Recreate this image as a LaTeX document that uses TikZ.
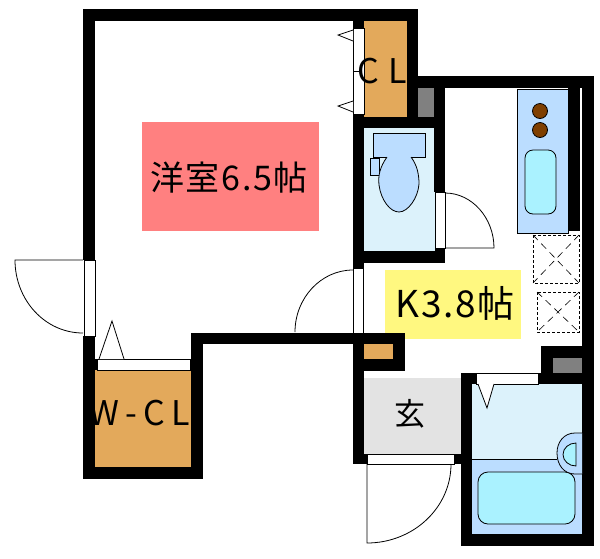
\documentclass[tikz,border=0pt]{standalone}
\usepackage{fontspec}
\setmainfont{Noto Sans CJK JP}
\definecolor{closetorange}{HTML}{E3A95B}
\definecolor{bathpale}{HTML}{DCF2FB}
\definecolor{fixtureblue}{HTML}{BBDDFF}
\definecolor{basincyan}{HTML}{AAF2FF}
\definecolor{burnerbrown}{HTML}{7F3F00}
\tikzset{
    wall/.style={fill=black},
    duct/.style={fill=black!50},
    doorstrip/.style={draw=black, fill=white, line width=0.8pt},
    thinline/.style={draw=black, line width=0.8pt},
    fixture/.style={draw=black, fill=fixtureblue, line width=0.8pt},
    basin/.style={draw=black, fill=basincyan, line width=0.8pt},
    appliance/.style={draw=black, line width=0.7pt, dash pattern=on 3pt off 2pt},
    applianceX/.style={draw=black, line width=0.6pt, dash pattern=on 7pt off 5pt},
    roomlabel/.style={inner sep=0pt, text=black, anchor=base},
}
\begin{document}
\begin{tikzpicture}[x=1pt, y=-1pt]
    \useasboundingbox (0,0) rectangle (600,558);

    % Room colours
    \fill[red!50!white] (142,122) rectangle (319,231);
    \fill[yellow!50!white] (385,270) rectangle (521,339);
    \fill[closetorange] (364,21) rectangle (407,117);
    \fill[closetorange] (95,370) rectangle (191,467);
    \fill[closetorange] (364,344) rectangle (393,359);
    \fill[bathpale] (364,128) rectangle (435,251);
    \fill[bathpale] (472,384) rectangle (582,459);
    \fill[fixtureblue] (472,459) rectangle (582,534);
    \fill[black!11] (364,378) rectangle (461,454);
    \fill[duct] (418,88) rectangle (434,117);
    \fill[duct] (553,358) rectangle (582,373);

    % Outer walls
    \fill[wall] (83,9) rectangle (418,21);
    \fill[wall] (83,9) rectangle (95,260);
    \fill[wall] (83,336) rectangle (95,479);
    \fill[wall] (83,467) rectangle (203,479);
    \fill[wall] (191,333) rectangle (203,479);
    \fill[wall] (191,333) rectangle (405,344);
    \fill[wall] (407,9) rectangle (418,128);
    \fill[wall] (407,76) rectangle (594,88);
    \fill[wall] (582,76) rectangle (594,546);
    \fill[wall] (461,534) rectangle (594,546);
    \fill[wall] (461,373) rectangle (472,546);

    % Inner walls
    \fill[wall] (353,21) rectangle (364,28);
    \fill[wall] (353,117) rectangle (445,128);
    \fill[wall] (353,114) rectangle (364,268);
    \fill[wall] (434,88) rectangle (445,192);
    \fill[wall] (353,251) rectangle (445,263);
    \fill[wall] (568,88) rectangle (580,231);
    \fill[wall] (393,333) rectangle (405,371);
    \fill[wall] (353,359) rectangle (405,371);
    \fill[wall] (353,333) rectangle (364,464);
    \fill[wall] (353,454) rectangle (367,464);
    \fill[wall] (454,454) rectangle (461,464);
    \fill[wall] (461,373) rectangle (476,384);
    \fill[wall] (541,346) rectangle (582,358);
    \fill[wall] (541,346) rectangle (553,373);
    \fill[wall] (538,373) rectangle (582,384);
    \fill[wall] (95,359) rectangle (97,370);

    % Door openings
    \draw[doorstrip] (84,260) rectangle (95,336);
    \draw[doorstrip] (97,359) rectangle (190,370);
    \draw[doorstrip] (353,28) rectangle (364,114);
    \draw[doorstrip] (435,192) rectangle (445,248);
    \draw[doorstrip] (353,268) rectangle (363,333);
    \draw[doorstrip] (367,454) rectangle (454,464);
    \draw[doorstrip] (476,373) rectangle (538,384);
    \fill[wall] (435,248) rectangle (445,251);

    % Door leaves
    \draw[thinline] (83,260) -- (15,260) .. controls (15,300) and (45,333) .. (83,333);
    \draw[thinline] (445,248) -- (494,248) .. controls (494,218) and (472,193) .. (445,193);
    \draw[thinline] (353,270) .. controls (321,270) and (295,298) .. (295,332);
    \draw[thinline] (367,464) -- (367,543) .. controls (413,543) and (451,508) .. (451,464);

    % Folding doors
    \draw[thinline, fill=white] (353,30) -- (338,35) -- (353,41);
    \draw[thinline, fill=white] (353,101) -- (338,106) -- (353,112);
    \draw[thinline] (353,71) -- (362,71);
    \draw[thinline, fill=white] (99,359) -- (112,321) -- (124,359);
    \draw[thinline, fill=white] (478,384) -- (487,408) -- (494,384);

    % Toilet
    \draw[fixture] (373,133) rectangle (425,157);
    \draw[fixture] (370,158) rectangle (379,175);
    \draw[fixture] (387,157) .. controls (380,167) and (378,175) .. (379,185)
        .. controls (381,200) and (390,212) .. (399,212)
        .. controls (408,212) and (418,198) .. (419,184)
        .. controls (419,174) and (417,165) .. (411,157);

    % Kitchen counter
    \draw[fixture] (517,89) rectangle (568,233);
    \draw[thinline, fill=burnerbrown] (540,111) circle[radius=7.5];
    \draw[thinline, fill=burnerbrown] (540,130) circle[radius=7.5];
    \draw[basin, rounded corners=8pt] (525,150) rectangle (556,214);

    % Appliance spaces
    \draw[appliance] (533,235) rectangle (579,283);
    \draw[applianceX] (533,235) -- (579,283);
    \draw[applianceX] (579,235) -- (533,283);
    \draw[appliance] (537,292) rectangle (579,332);
    \draw[applianceX] (537,292) -- (579,332);
    \draw[applianceX] (579,292) -- (537,332);

    % Bath
    \draw[thinline] (472,459) -- (557,459);
    \draw[basin, rounded corners=10pt] (478,472) rectangle (575,524);
    \draw[fixture] (582,433) -- (575,433) .. controls (564,433) and (557,442) .. (557,453)
        .. controls (557,465) and (564,474) .. (575,474) -- (582,474);
    \draw[thinline, fill=basincyan] (576,443) -- (576,466) .. controls (569,466) and (563,461) .. (563,454.5)
        .. controls (563,448) and (569,443) .. (576,443) -- cycle;

    % Labels
    \node[roomlabel, font=\fontsize{34}{34}\selectfont\addfontfeatures{LetterSpace=5}] (westernroom) at (229,190) {洋室6.5帖};
    \node[roomlabel, font=\fontsize{37}{37}\selectfont\addfontfeatures{LetterSpace=4.5}] (kitchen) at (455,317) {K3.8帖};
    \node[roomlabel, font=\fontsize{31}{31}\selectfont] (entrance) at (410,425) {玄};
    \node[roomlabel, font=\fontsize{34}{34}\selectfont\addfontfeatures{LetterSpace=27}] (closet) at (382,83) {CL};
    \node[roomlabel, font=\fontsize{34}{34}\selectfont\addfontfeatures{LetterSpace=19}] (walkin) at (140,425) {W-CL};
\end{tikzpicture}
\end{document}
